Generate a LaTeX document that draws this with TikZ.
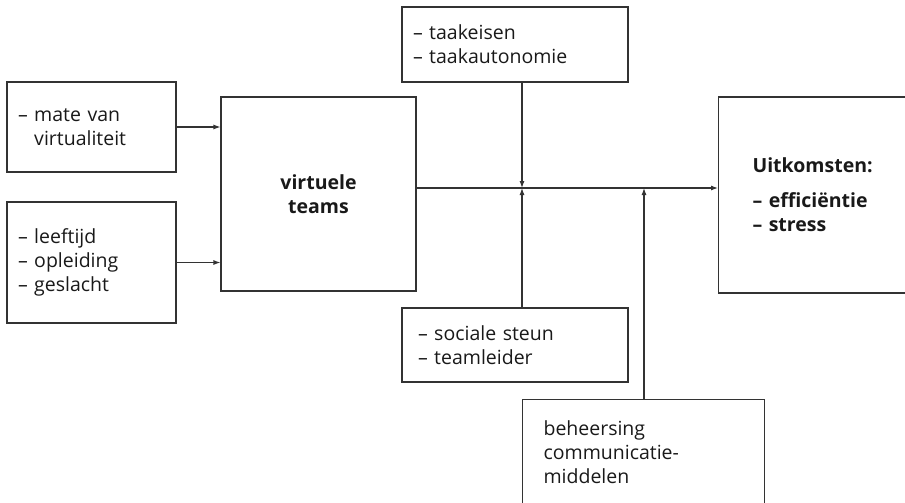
\documentclass[tikz,border=0pt]{standalone}
\usepackage{fontspec}
\setmainfont{Open Sans}
\usetikzlibrary{arrows.meta}

\begin{document}
\fontsize{19.5}{24}\selectfont
\begin{tikzpicture}[
    x=1pt,
    y=-1pt,
    box/.style={draw=black!80, line width=1.1pt, rectangle, align=left,
      inner ysep=0pt, text=black!90},
    link/.style={draw=black!80, line width=1.1pt,
      -{Latex[length=7pt,width=5pt]}}
]
\useasboundingbox (0,0) rectangle (905,503);
\clip (0,0) rectangle (905,503);
\begin{scope}
  \node[box, text width=147, inner xsep=11, minimum height=90]
    (mate) at (91.5,127) {– mate van\\\phantom{– }virtualiteit};
  \node[box, text width=147, inner xsep=11, minimum height=121]
    (demo) at (91.5,262.5) {– leeftijd\\– opleiding\\– geslacht};
  \node[box, align=center, font=\bfseries, minimum width=195, minimum height=194]
    (teams) at (318.5,194) {virtuele\\teams};
  \node[box, text width=204, inner xsep=11, minimum height=75]
    (taak) at (515,44.5) {– taakeisen\\– taakautonomie};
  \node[box, text width=194, inner xsep=16, minimum height=74]
    (steun) at (515,345) {– sociale steun\\– teamleider};
  \node[box, anchor=west, font=\bfseries, text width=220, inner xsep=34, minimum height=196]
    (uit) at (718,195) {Uitkomsten:\\[11pt]– efficiëntie\\– stress};
  \node[box, anchor=north west, text width=200, inner xsep=21, inner ysep=21, text depth=100]
    (beheer) at (522,399) {beheersing\\communicatie-\\middelen};

  \coordinate (mod) at (522,188);
  \coordinate (comm) at (644,188);

  \draw[link] (mate.east) -- (mate.east -| teams.west);
  \draw[link] (demo.east) -- (demo.east -| teams.west);
  \draw[link] (teams.east |- mod) -- (uit.west |- mod);
  \draw[link] (taak.south -| mod) -- (mod);
  \draw[link] (steun.north -| mod) -- (mod);
  \draw[link] (beheer.north -| comm) -- (comm);
\end{scope}
\end{tikzpicture}
\end{document}
